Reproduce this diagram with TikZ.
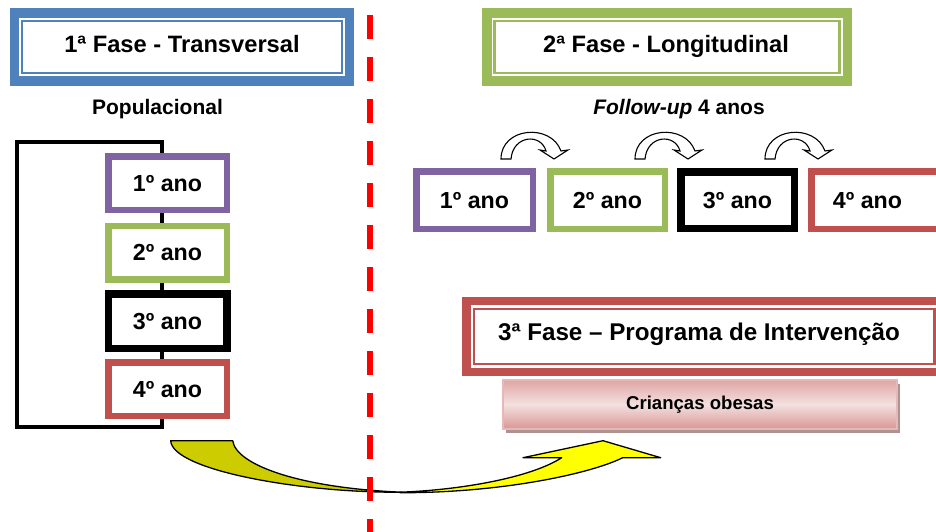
\documentclass[tikz,border=0pt]{standalone}
\usepackage{fontspec}
\setmainfont{Liberation Sans}
\usetikzlibrary{shadows}
\definecolor{cblue}{HTML}{4F81BD}
\definecolor{cgreen}{HTML}{9BBB59}
\definecolor{cpurple}{HTML}{8064A2}
\definecolor{cred}{HTML}{C0504D}
\definecolor{cyolive}{HTML}{CCCC00}
\definecolor{cyellow}{HTML}{FFFF00}
\definecolor{pinkedge}{HTML}{E6B9B8}
\definecolor{pinkdark}{HTML}{D99694}
\definecolor{pinklight}{HTML}{F4E0E0}
\definecolor{shadowc}{HTML}{B09292}
\newcommand{\fTitle}{\fontsize{23.7}{28}\selectfont\bfseries}
\newcommand{\fTitleB}{\fontsize{24.2}{29}\selectfont\bfseries}
\newcommand{\fYear}{\fontsize{23.2}{27}\selectfont\bfseries}
\newcommand{\fSub}{\fontsize{21}{25}\selectfont\bfseries}
\newcommand{\fSmall}{\fontsize{18.6}{22}\selectfont\bfseries}
\begin{document}
\begin{tikzpicture}[x=1pt,y=-1pt,
  every node/.style={inner sep=0pt, outer sep=0pt},
  phase/.style={draw=#1, line width=9.5pt, fill=white},
  inner/.style={draw=#1, line width=2.2pt},
  yr/.style={draw=#1, line width=6.5pt, fill=white, font=\fYear, text height=16.5pt, text depth=0pt},
  yrl/.style={yr=#1, minimum width=118.5pt, minimum height=53.5pt},
  yrr/.style={yr=#1, minimum height=57.5pt},
  ctext/.style={anchor=base},
  bracket/.style={draw=black, line width=3.5pt, line join=miter},
  yarrow/.style={draw=black, line width=1.3pt, line join=round},
  splitline/.style={draw=red, line width=6pt, dash pattern=on 24pt off 18pt},
  carrow/.pic={\draw[fill=white, line width=1.1pt, line join=miter]
     (0,0) .. controls (0,-32) and (50,-36) .. (60,-8) -- (67,-9) -- (53,0)
     -- (39,-9) -- (45,-8) .. controls (40,-26) and (12,-24) .. (10,0) -- cycle;}
]
\useasboundingbox (0,0) rectangle (936,532);
\clip (0,0) rectangle (936,532);
\fill[white] (0,0) rectangle (936,532);

% ---- Phase 1 ----
\node[phase=cblue, minimum width=335pt, minimum height=68pt] (f1) at (182,47) {};
\draw[inner=cblue] ([shift={(7.7,7.7)}]f1.north west) rectangle ([shift={(-7.7,-7.7)}]f1.south east);
\node[ctext, font=\fTitle] (f1t) at (182,53) {1ª Fase - Transversal};
\node[ctext, font=\fSub] (pop) at (157.5,114) {Populacional};

% bracket behind the year stack
\coordinate (b1) at (162,142);
\coordinate (b2) at (17,142);
\coordinate (b3) at (17,427);
\coordinate (b4) at (162,427);
\draw[bracket] (b1) -- (b2) -- (b3) -- (b4) -- cycle;

\node[yrl=cpurple] (l1) at (167.5,183) {1º ano};
\node[yrl=cgreen] (l2) at (167.5,252.5) {2º ano};
\node[yrl=black, line width=7.5pt, minimum height=54.5pt] (l3) at (167.5,321) {3º ano};
\node[yrl=cred] (l4) at (167.5,389) {4º ano};

% ---- Phase 2 ----
\node[phase=cgreen, minimum width=360.5pt, minimum height=68pt] (f2) at (667,47) {};
\draw[inner=cgreen] ([shift={(7.7,7.7)}]f2.north west) rectangle ([shift={(-7.7,-7.7)}]f2.south east);
\node[ctext, font=\fTitle] (f2t) at (666,53) {2ª Fase - Longitudinal};
\node[ctext, font=\fSub] (fu) at (679,114) {\textit{Follow-up} 4 anos};

\node[yrr=cpurple, minimum width=116.5pt] (r1) at (474.5,200) {1º ano};
\node[yrr=cgreen, minimum width=114.5pt] (r2) at (607.5,200) {2º ano};
\node[yrr=black, line width=7.5pt, minimum width=113.5pt, minimum height=56.5pt] (r3) at (737.5,200) {3º ano};
\node[yrr=cred, minimum width=130pt] (r4) at (876.25,200) {};
\node[ctext, font=\fYear] (r4t) at (867.5,208) {4º ano};

\pic at (501,159) {carrow};
\pic at (635,159) {carrow};
\pic at (765,159) {carrow};

% ---- Phase 3 ----
\node[phase=cred, line width=8.3pt, minimum width=475.7pt, minimum height=71pt] (f3) at (704.35,336.5) {};
\draw[inner=cred] ([shift={(7.7,7.7)}]f3.north west) rectangle ([shift={(-7.7,-7.7)}]f3.south east);
\node[ctext, font=\fTitleB] (f3t) at (699,340) {3ª Fase – Programa de Intervenção};

\node[draw=pinkedge, line width=1.2pt, top color=pinkdark!85, bottom color=pinkdark, middle color=pinklight,
      general shadow={fill=shadowc, shadow xshift=3pt, shadow yshift=-4pt},
      minimum width=394pt, minimum height=49pt, font=\fSmall, text height=13.3pt, text depth=4pt]
      (cb) at (700,404.5) {Crianças obesas};

% ---- big curved arrow ----
\draw[yarrow, fill=cyolive] (170.7,440.7) -- (232.7,440.7)
   .. controls (236,465) and (300,488) .. (402,492.2)
   .. controls (300,493) and (172,470) .. (170.7,440.7) -- cycle;
\draw[yarrow, fill=cyellow] (400,492.7)
   .. controls (500,493) and (590,474) .. (622.7,457.7)
   -- (660.7,457.7) -- (603,440.7) -- (523,457.7) -- (561.7,457.7)
   .. controls (530,478) and (460,490) .. (400,492.2) -- cycle;

% ---- dividing line ----
\coordinate (dtop) at (370,15);
\coordinate (dbot) at (370,545);
\draw[splitline] (dtop) -- (dbot);
\end{tikzpicture}
\end{document}
